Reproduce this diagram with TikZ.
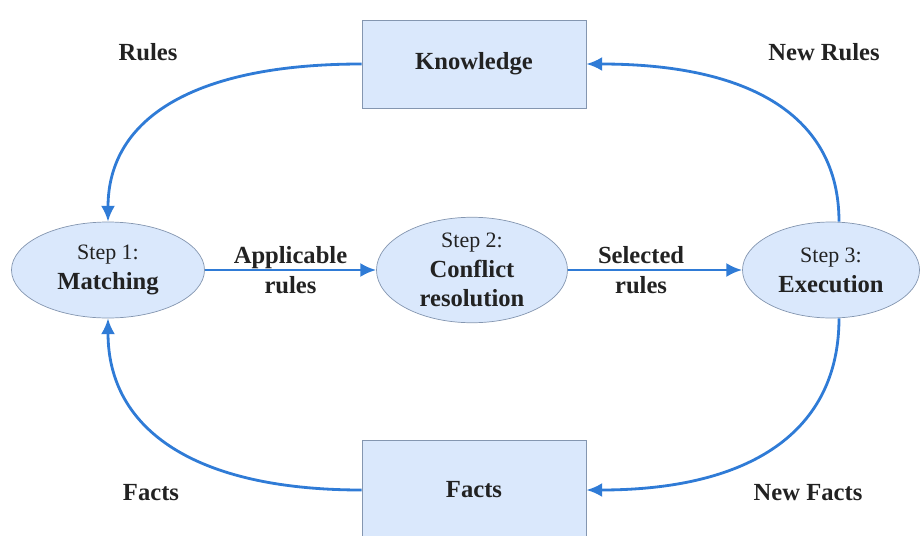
\documentclass[tikz,border=0pt]{standalone}
\usepackage{fontspec}
\setmainfont{Liberation Serif}
\usepackage{xcolor}
\usepackage{tikz}
\usetikzlibrary{shapes.geometric, arrows.meta, positioning}

\definecolor{boxfill}{HTML}{DAE8FC}
\definecolor{boxline}{HTML}{8496B0}
\definecolor{flow}{HTML}{2F7BD6}
\definecolor{ink}{HTML}{222222}

\begin{document}
\begin{tikzpicture}
		\tikzset{
			stepbox/.style={ellipse, draw=boxline, fill=boxfill, align=center, text=ink,
			minimum width=3.86cm, minimum height=1.92cm, inner sep=0pt, font=\fontsize{14}{17}\selectfont},
			store/.style={rectangle, draw=boxline, fill=boxfill, align=center, text=ink,
			minimum width=4.48cm, font=\fontsize{14}{17}\selectfont\bfseries},
			lbl/.style={align=center, text=ink, font=\fontsize{14}{17.5}\selectfont\bfseries},
			flowline/.style={draw=flow, line width=1.6pt, -{Latex[length=9pt, width=8pt]}}
		}
		\useasboundingbox (0,0) rectangle (18.48,10.7);

		\node[store, minimum height=1.76cm] (know) at (9.48,9.42) {Knowledge};
		\node[store, minimum height=2cm] (facts) at (9.48,0.9) {Facts};

		\node[stepbox] (step1) at (2.16,5.3) {{\fontsize{12.5}{17}\selectfont Step 1:}\\\textbf{Matching}};
		\node[stepbox, minimum width=3.82cm] (step2) at (9.44,5.3) {{\fontsize{12.5}{17}\selectfont Step 2:}\\\textbf{Conflict}\\\textbf{resolution}};
		\node[stepbox, minimum width=3.54cm] (step3) at (16.62,5.3) {{\fontsize{12.5}{17}\selectfont Step 3:}\\\textbf{Execution}};

		\draw[flowline] (step1) -- node[lbl]{Applicable\\rules} (step2);
		\draw[flowline] (step2) -- node[lbl, pos=0.42]{Selected\\rules} (step3);

		% loops round the two stores
		\draw[flowline] (know.west) .. controls +(-3.3,0) and +(0,2.1) .. (step1.north);
		\draw[flowline] ([xshift=0.16cm]step3.north) .. controls +(0,2.1) and +(3.3,0) .. (know.east);
		\draw[flowline] ([xshift=0.16cm]step3.south) .. controls +(0,-2.25) and +(3.3,0) .. (facts.east);
		\draw[flowline] (facts.west) .. controls +(-3.3,0) and +(0,-2.25) .. (step1.south);

		\node[lbl] (rules) at (2.96,9.66) {Rules};
		\node[lbl] (newrules) at (16.48,9.66) {New Rules};
		\node[lbl] (factsin) at (3.02,0.84) {Facts};
		\node[lbl] (newfacts) at (16.16,0.84) {New Facts};
	\end{tikzpicture}
\end{document}
